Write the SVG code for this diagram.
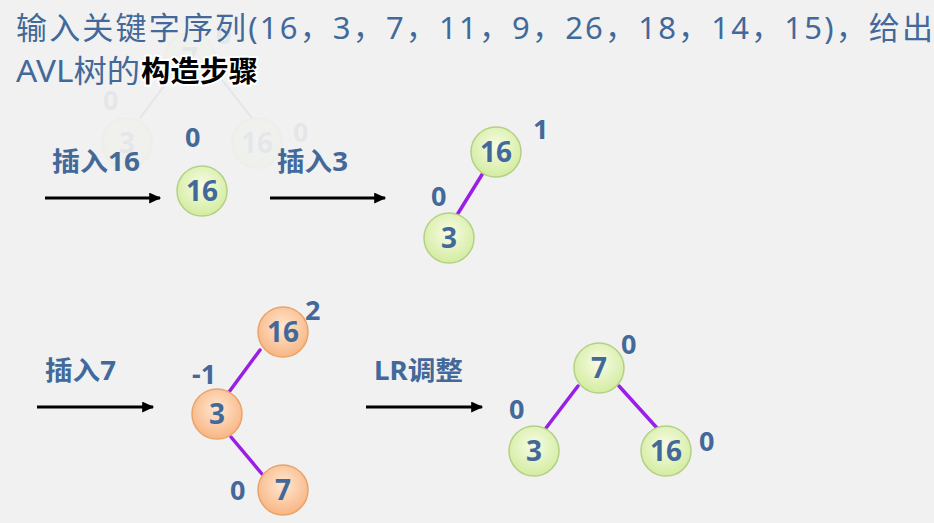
<svg xmlns="http://www.w3.org/2000/svg" width="934" height="523" viewBox="0 0 934 523">
<defs>
<radialGradient id="gG" cx="50%" cy="40%" r="60%">
<stop offset="0" stop-color="#F8FCE6"/>
<stop offset="1" stop-color="#D3ECA0"/>
</radialGradient>
<radialGradient id="gO" cx="50%" cy="40%" r="60%">
<stop offset="0" stop-color="#FFE8D2"/>
<stop offset="1" stop-color="#F8B583"/>
</radialGradient>
<marker id="ah" markerWidth="5" markerHeight="4" refX="3.6" refY="1.8" orient="auto" markerUnits="strokeWidth">
<path d="M0,0 L4,1.8 L0,3.6 Z" fill="#000"/>
</marker>
<style>
.t{font-family:"Noto Sans","Noto Sans CJK SC",sans-serif;fill:#42699A}
.title{font-size:31px}
.hl{font-family:"Noto Sans CJK SC",sans-serif;font-size:29px;font-weight:bold;fill:#000;stroke:#fff;stroke-width:4px;paint-order:stroke;stroke-linejoin:round}
.lbl{font-size:26px;font-weight:bold}
.bf{font-size:27px;font-weight:bold}
.nl{font-size:28px;font-weight:bold;text-anchor:middle}
.ng{fill:url(#gG);stroke:#B3D184;stroke-width:1.5}
.no{fill:url(#gO);stroke:#E9A468;stroke-width:1.5}
.edge{stroke:#9A1FE6;stroke-width:3.5;stroke-linecap:round;fill:none}
.arr{stroke:#000;stroke-width:3;fill:none;marker-end:url(#ah)}
.ghost{opacity:0.07}
</style>
</defs>
<rect width="934" height="523" fill="#F1F1F1"/>

<g id="ghost" class="ghost">
<line x1="140" y1="118" x2="164" y2="86" stroke="#6A4FA6" stroke-width="2"/>
<line x1="222" y1="80" x2="252" y2="118" stroke="#6A4FA6" stroke-width="2"/>
<circle cx="190" cy="58" r="25" class="ng"/>
<circle cx="127" cy="143" r="25" class="ng"/>
<circle cx="257" cy="143" r="25" class="ng"/>
<text x="190" y="68" class="t nl">7</text>
<text x="127" y="153" class="t nl">3</text>
<text x="257" y="153" class="t nl">16</text>
<text x="103" y="110" class="t bf">0</text>
<text x="293" y="142" class="t bf">0</text>
<text x="216" y="44" class="t bf">0</text>
</g>

<g id="title">
<text x="16" y="39" class="t title" textLength="917" lengthAdjust="spacing">输入关键字序列(16，3，7，11，9，26，18，14，15)，给出</text>
<text x="16" y="82" class="t title" textLength="124" lengthAdjust="spacingAndGlyphs">AVL树的</text>
<text x="141" y="82" class="hl" textLength="117" lengthAdjust="spacingAndGlyphs">构造步骤</text>
</g>

<g id="connectors">
<line x1="45" y1="198" x2="160" y2="198" class="arr"/>
<line x1="270" y1="198" x2="385" y2="198" class="arr"/>
<line x1="37" y1="407" x2="153" y2="407" class="arr"/>
<line x1="366" y1="407" x2="482" y2="407" class="arr"/>
<line x1="483" y1="173" x2="457" y2="215" class="edge"/>
<line x1="260" y1="350" x2="229" y2="392" class="edge"/>
<line x1="231" y1="437" x2="262" y2="474" class="edge"/>
<line x1="578" y1="386" x2="546" y2="428" class="edge"/>
<line x1="619" y1="386" x2="657" y2="428" class="edge"/>
</g>

<g id="labels">
<text x="52" y="171" class="t lbl" textLength="88" lengthAdjust="spacingAndGlyphs">插入16</text>
<text x="277" y="171" class="t lbl" textLength="71" lengthAdjust="spacingAndGlyphs">插入3</text>
<text x="45" y="380" class="t lbl" textLength="71" lengthAdjust="spacingAndGlyphs">插入7</text>
<text x="374" y="380" class="t lbl" textLength="89" lengthAdjust="spacingAndGlyphs">LR调整</text>
</g>

<g id="s1-n16">
<circle cx="202" cy="191" r="25" class="ng"/>
<text x="202" y="201" class="t nl">16</text>
<text x="185" y="147" class="t bf">0</text>
</g>

<g id="s2-n16">
<circle cx="496" cy="152" r="25" class="ng"/>
<text x="496" y="162" class="t nl">16</text>
<text x="533" y="139" class="t bf">1</text>
</g>
<g id="s2-n3">
<circle cx="449" cy="238" r="25" class="ng"/>
<text x="449" y="248" class="t nl">3</text>
<text x="431" y="206" class="t bf">0</text>
</g>

<g id="s3-n16">
<circle cx="283" cy="332" r="25" class="no"/>
<text x="283" y="342" class="t nl">16</text>
<text x="305" y="320" class="t bf">2</text>
</g>
<g id="s3-n3">
<circle cx="217" cy="414" r="25" class="no"/>
<text x="217" y="424" class="t nl">3</text>
<text x="192" y="384" class="t bf">-1</text>
</g>
<g id="s3-n7">
<circle cx="283" cy="490" r="25" class="no"/>
<text x="283" y="500" class="t nl">7</text>
<text x="230" y="500" class="t bf">0</text>
</g>

<g id="s4-n7">
<circle cx="599" cy="368" r="25" class="ng"/>
<text x="599" y="378" class="t nl">7</text>
<text x="621" y="354" class="t bf">0</text>
</g>
<g id="s4-n3">
<circle cx="534" cy="451" r="25" class="ng"/>
<text x="534" y="461" class="t nl">3</text>
<text x="509" y="419" class="t bf">0</text>
</g>
<g id="s4-n16">
<circle cx="666" cy="451" r="25" class="ng"/>
<text x="666" y="461" class="t nl">16</text>
<text x="699" y="451" class="t bf">0</text>
</g>
</svg>
